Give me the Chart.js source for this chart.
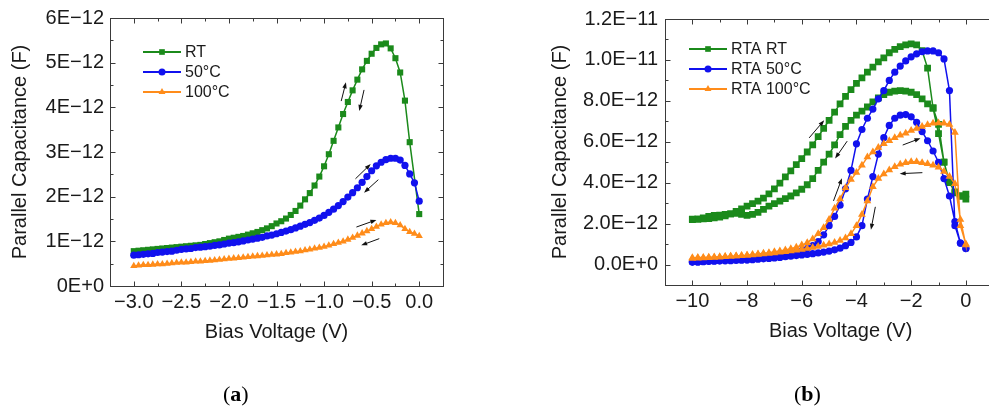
<!DOCTYPE html>
<html lang="en">
<head>
<meta charset="UTF-8">
<title>Parallel capacitance vs bias voltage</title>
<script src="https://cdn.jsdelivr.net/npm/chart.js@4.4.0/dist/chart.umd.min.js"></script>
<style>
  html, body { margin: 0; padding: 0; background: #fff; overflow: hidden; }
  body { width: 989px; height: 407px; position: relative; }
  .panel { position: absolute; top: 0; height: 407px; }
  #wrapA { left: 0; width: 470px; }
  #wrapB { left: 500px; width: 521px; }
  .tag { position: absolute; top: 381px; font-family: "Liberation Serif", "DejaVu Serif", serif; font-size: 22px; color: #000; }
</style>
</head>
<body>
<div class="panel" id="wrapA"><canvas id="chartA" width="470" height="407"></canvas></div>
<div class="panel" id="wrapB"><canvas id="chartB" width="521" height="407"></canvas></div>
<div class="tag" style="left:223px">(<b>a</b>)</div>
<div class="tag" style="left:794px">(<b>b</b>)</div>

<script>
// ---- panel (a): values in pF (1E-12 F) ----
const voltsA = [-3.00,-2.95,-2.90,-2.85,-2.80,-2.75,-2.70,-2.65,-2.60,-2.55,
  -2.50,-2.45,-2.40,-2.35,-2.30,-2.25,-2.20,-2.15,-2.10,-2.05,
  -2.00,-1.95,-1.90,-1.85,-1.80,-1.75,-1.70,-1.65,-1.60,-1.55,
  -1.50,-1.45,-1.40,-1.35,-1.30,-1.25,-1.20,-1.15,-1.10,-1.05,
  -1.00,-0.95,-0.90,-0.85,-0.80,-0.75,-0.70,-0.65,-0.60,-0.55,
  -0.50,-0.45,-0.40,-0.35,-0.30,-0.25,-0.20,-0.15,-0.10,-0.05,0.00];
const rtA = [0.78,0.79,0.80,0.81,0.82,0.83,0.84,0.85,0.86,0.87,
  0.88,0.89,0.90,0.91,0.92,0.94,0.96,0.98,1.00,1.03,
  1.06,1.08,1.10,1.12,1.15,1.18,1.21,1.25,1.29,1.34,
  1.40,1.45,1.51,1.59,1.68,1.80,1.94,2.08,2.25,2.45,
  2.68,2.95,3.25,3.55,3.85,4.12,4.38,4.62,4.85,5.04,
  5.20,5.33,5.41,5.43,5.32,5.10,4.78,4.15,3.22,null,1.61];
const c50A = [0.69,0.70,0.71,0.72,0.73,0.75,0.76,0.77,0.78,0.80,
  0.82,0.83,0.84,0.86,0.87,0.88,0.89,0.91,0.92,0.94,
  0.96,0.97,0.99,1.01,1.03,1.05,1.07,1.09,1.12,1.14,
  1.17,1.20,1.23,1.26,1.30,1.34,1.38,1.42,1.47,1.52,
  1.58,1.65,1.72,1.80,1.89,1.99,2.09,2.20,2.32,2.45,
  2.58,2.69,2.77,2.83,2.86,2.86,2.82,2.70,2.51,2.31,1.90];
const c100A = [0.45,0.46,0.47,0.47,0.48,0.49,0.49,0.50,0.51,0.52,
  0.53,0.53,0.54,0.55,0.55,0.56,0.57,0.58,0.59,0.60,
  0.61,0.62,0.63,0.64,0.65,0.66,0.67,0.68,0.69,0.70,
  0.71,0.72,0.74,0.75,0.77,0.78,0.80,0.82,0.84,0.86,
  0.88,0.91,0.94,0.97,1.00,1.04,1.08,1.13,1.18,1.23,
  1.28,1.33,1.38,1.41,1.43,1.41,1.36,1.28,1.21,1.17,1.12];
const xTicksA = [-3.0,-2.5,-2.0,-1.5,-1.0,-0.5,0.0];
const xLabelsA = ['\u22123.0','\u22122.5','\u22122.0','\u22121.5','\u22121.0','\u22120.5','0.0'];
const yTicksA = [0,1,2,3,4,5,6];
const yLabelsA = ['0E+0','1E\u221212','2E\u221212','3E\u221212','4E\u221212','5E\u221212','6E\u221212'];
const namesA = ['RT','50°C','100°C'];
// sweep arrows [x0, y0, x1, y1] in data units
const arrowsA = [[-0.82,4.14,-0.77,4.56],[-0.58,4.39,-0.63,3.92],[-0.67,2.40,-0.51,2.73],
  [-0.43,2.38,-0.58,2.09],[-0.66,1.32,-0.45,1.48],[-0.42,1.06,-0.61,0.91]];

// ---- panel (b): values in pF, forward (Up) and reverse (Down) sweeps ----
const voltsB = [-10.0,-9.8,-9.6,-9.4,-9.2,-9.0,-8.8,-8.6,-8.4,-8.2,
  -8.0,-7.8,-7.6,-7.4,-7.2,-7.0,-6.8,-6.6,-6.4,-6.2,
  -6.0,-5.8,-5.6,-5.4,-5.2,-5.0,-4.8,-4.6,-4.4,-4.2,
  -4.0,-3.8,-3.6,-3.4,-3.2,-3.0,-2.8,-2.6,-2.4,-2.2,
  -2.0,-1.8,-1.6,-1.4,-1.2,-1.0,-0.8,-0.6,-0.4,-0.2,0.0];
const rtaRtUp = [2.22,2.22,2.23,2.25,2.28,2.32,2.38,2.48,2.60,2.72,
  2.85,2.98,3.10,3.25,3.45,3.70,3.98,4.28,4.58,4.88,
  5.18,5.50,5.85,6.25,6.65,7.05,7.45,7.85,8.22,8.55,
  8.85,9.12,9.40,9.65,9.90,10.10,10.35,10.52,10.65,10.74,
  10.78,10.74,10.45,9.60,7.65,6.40,5.00,4.00,3.55,3.35,3.44];
const rtaRtDown = [2.20,2.22,2.28,2.35,2.40,2.42,2.45,2.48,2.50,2.45,
  2.40,2.45,2.55,2.70,2.85,2.98,3.10,3.22,3.35,3.50,
  3.68,3.90,4.20,4.60,5.00,5.40,5.85,6.35,6.75,7.05,
  7.30,7.50,7.70,7.95,8.15,8.30,8.42,8.48,8.50,8.48,
  8.42,8.30,8.10,7.85,7.65,6.85,5.00,4.05,3.50,3.35,3.20];
const rta50Up = [0.12,0.13,0.15,0.17,0.19,0.21,0.23,0.25,0.27,0.29,
  0.31,0.33,0.35,0.37,0.40,0.43,0.46,0.50,0.55,0.61,
  0.68,0.78,0.92,1.12,1.45,1.90,2.35,2.90,3.70,4.60,
  5.90,6.60,7.15,7.60,8.10,8.50,9.00,9.40,9.70,9.95,
  10.15,10.30,10.40,10.44,10.44,10.35,10.05,8.50,1.90,1.05,0.78];
const rta50Down = [0.12,0.13,0.14,0.15,0.16,0.17,0.18,0.19,0.20,0.21,
  0.22,0.24,0.26,0.28,0.30,0.32,0.35,0.38,0.41,0.44,
  0.47,0.50,0.53,0.57,0.61,0.66,0.72,0.80,0.92,1.08,
  1.35,1.90,3.20,4.30,5.40,6.20,6.80,7.15,7.30,7.33,
  7.22,6.95,6.50,6.05,5.55,5.00,4.20,3.35,2.10,1.05,0.78];
const rta100Up = [0.30,0.31,0.32,0.33,0.35,0.36,0.38,0.40,0.42,0.44,
  0.46,0.49,0.52,0.55,0.58,0.62,0.66,0.71,0.77,0.85,
  0.95,1.07,1.25,1.50,1.80,2.20,2.75,3.20,3.75,4.15,
  4.50,4.85,5.25,5.50,5.72,5.90,6.05,6.20,6.32,6.42,
  6.55,6.65,6.75,6.83,6.90,6.92,6.90,6.84,6.45,1.90,1.00];
const rta100Down = [0.33,0.34,0.35,0.36,0.37,0.38,0.39,0.40,0.42,0.43,
  0.45,0.47,0.49,0.51,0.54,0.57,0.60,0.63,0.66,0.70,
  0.74,0.78,0.83,0.88,0.94,1.00,1.08,1.17,1.30,1.50,
  1.90,2.45,3.10,3.80,4.20,4.42,4.62,4.78,4.90,4.98,
  5.02,5.02,4.98,4.92,4.85,4.75,4.55,4.30,3.95,2.20,0.95];
const xTicksB = [-10,-8,-6,-4,-2,0];
const xLabelsB = ['\u221210','\u22128','\u22126','\u22124','\u22122','0'];
const yTicksB = [0,2,4,6,8,10,12];
const yLabelsB = ['0.0E+0','2.0E\u221212','4.0E\u221212','6.0E\u221212','8.0E\u221212','1.0E\u221211','1.2E\u221211'];
const namesB = ['RTA RT','RTA 50°C','RTA 100°C'];
const arrowsB = [[-5.73,6.19,-5.18,7.05],[-4.34,6.03,-4.78,5.18],[-4.84,3.11,-4.53,4.22],
  [-3.31,2.82,-3.47,1.70],[-2.31,5.84,-1.66,6.17],[-1.59,4.49,-2.42,4.44]];

const GREEN = '#1b8a1b', BLUE = '#1111ee', ORANGE = '#ff8c1a', INK = '#1a1a1a';
const FONT = '"Liberation Sans", Arial, sans-serif';

function pairs(xs, ys) { return xs.map((v, i) => ({x: v, y: ys[i]})); }
function loop(xs, up, down) { return pairs(xs, up).concat(pairs(xs, down).reverse()); }
function mids(arr) { return arr.slice(1).map((v, i) => (v + arr[i]) / 2); }

function drawMarker(ctx, style, x, y, r) {
  ctx.beginPath();
  if (style === 'rect') {
    const s = r * Math.SQRT1_2;
    ctx.rect(x - s, y - s, 2 * s, 2 * s);
  } else if (style === 'triangle') {
    ctx.moveTo(x, y - r);
    ctx.lineTo(x + r * 0.866, y + r / 2);
    ctx.lineTo(x - r * 0.866, y + r / 2);
    ctx.closePath();
  } else {
    ctx.arc(x, y, r, 0, Math.PI * 2);
  }
  ctx.fill();
}

// box around the plot with inward major/minor ticks on all four sides
const frame = {
  id: 'frame',
  afterDraw(chart, args, opts) {
    const {ctx, chartArea: a, scales: {x, y}} = chart;
    const L = Math.round(a.left) + 0.5, R = Math.round(a.right) + 0.5;
    const T = Math.round(a.top) + 0.5, B = Math.round(a.bottom) + 0.5;
    ctx.save();
    ctx.strokeStyle = '#3a3a3a';
    ctx.lineWidth = 1;
    ctx.strokeRect(L, T, R - L, B - T);
    ctx.beginPath();
    const xt = (v, len) => {
      const p = Math.round(x.getPixelForValue(v)) + 0.5;
      ctx.moveTo(p, B); ctx.lineTo(p, B - len);
      ctx.moveTo(p, T); ctx.lineTo(p, T + len);
    };
    const yt = (v, len) => {
      const p = Math.round(y.getPixelForValue(v)) + 0.5;
      ctx.moveTo(L, p); ctx.lineTo(L + len, p);
      ctx.moveTo(R, p); ctx.lineTo(R - len, p);
    };
    opts.xMajor.forEach(v => xt(v, 5));
    mids(opts.xMajor).forEach(v => xt(v, 3));
    opts.yMajor.forEach(v => yt(v, 5));
    mids(opts.yMajor).forEach(v => yt(v, 3));
    ctx.stroke();
    ctx.restore();
  }
};

const legendBox = {
  id: 'legendBox',
  afterDraw(chart, args, opts) {
    const ctx = chart.ctx;
    ctx.save();
    ctx.font = '16px ' + FONT;
    ctx.textBaseline = 'middle';
    chart.data.datasets.forEach((ds, i) => {
      const yy = opts.y + i * opts.gap;
      ctx.strokeStyle = ds.borderColor;
      ctx.fillStyle = ds.borderColor;
      ctx.lineWidth = 2;
      ctx.beginPath();
      ctx.moveTo(opts.x, yy);
      ctx.lineTo(opts.x + opts.len, yy);
      ctx.stroke();
      drawMarker(ctx, ds.pointStyle, opts.x + opts.len / 2, yy, opts.r[i]);
      ctx.fillStyle = INK;
      ctx.fillText(ds.label, opts.x + opts.len + 4, yy + 1);
    });
    ctx.restore();
  }
};

const arrows = {
  id: 'arrows',
  afterDatasetsDraw(chart, args, opts) {
    const {ctx, scales: {x, y}} = chart;
    ctx.save();
    ctx.strokeStyle = '#111';
    ctx.fillStyle = '#111';
    ctx.lineWidth = 1;
    opts.list.forEach(([x0, y0, x1, y1]) => {
      const ax = x.getPixelForValue(x0), ay = y.getPixelForValue(y0);
      const bx = x.getPixelForValue(x1), by = y.getPixelForValue(y1);
      const ang = Math.atan2(by - ay, bx - ax);
      const c = Math.cos(ang), s = Math.sin(ang);
      ctx.beginPath();
      ctx.moveTo(ax, ay);
      ctx.lineTo(bx - 4 * c, by - 4 * s);
      ctx.stroke();
      ctx.beginPath();
      ctx.moveTo(bx, by);
      ctx.lineTo(bx - 6 * c + 2.2 * s, by - 6 * s - 2.2 * c);
      ctx.lineTo(bx - 6 * c - 2.2 * s, by - 6 * s + 2.2 * c);
      ctx.closePath();
      ctx.fill();
    });
    ctx.restore();
  }
};

function series(label, color, style, r, order, data) {
  return {
    label: label, data: data, borderColor: color, backgroundColor: color,
    pointBackgroundColor: color, pointBorderColor: color, pointBorderWidth: 0,
    pointStyle: style, pointRadius: r, borderWidth: 1.5, tension: 0,
    spanGaps: true, order: order
  };
}

function makeChart(id, cfg) {
  return new Chart(document.getElementById(id), {
    type: 'line',
    data: {datasets: cfg.datasets},
    options: {
      responsive: false,
      animation: false,
      events: [],
      layout: {padding: cfg.padding},
      plugins: {
        legend: {display: false},
        tooltip: {enabled: false},
        frame: {xMajor: cfg.xTicks, yMajor: cfg.yTicks},
        legendBox: cfg.legend,
        arrows: {list: cfg.arrows}
      },
      scales: {
        x: {
          type: 'linear', min: cfg.xMin, max: cfg.xMax,
          afterBuildTicks: s => { s.ticks = cfg.xTicks.map(v => ({value: v})); },
          afterFit: s => { s.height = 60; },
          grid: {display: false, drawTicks: false, tickLength: 0}, border: {display: false},
          ticks: {autoSkip: false, maxRotation: 0, padding: 4, color: INK,
            font: {family: FONT, size: 20}, callback: (v, i) => cfg.xLabels[i]},
          title: {display: true, text: 'Bias Voltage (V)', color: INK,
            font: {family: FONT, size: 20}, padding: {top: 0, bottom: 2}}
        },
        y: {
          type: 'linear', min: cfg.yMin, max: cfg.yMax,
          afterBuildTicks: s => { s.ticks = cfg.yTicks.map(v => ({value: v})); },
          afterFit: s => { s.width = cfg.yWidth; },
          grid: {display: false, drawTicks: false, tickLength: 0}, border: {display: false},
          ticks: {autoSkip: false, padding: cfg.yPad, color: INK,
            font: {family: FONT, size: 20}, callback: (v, i) => cfg.yLabels[i]},
          title: {display: true, text: 'Parallel Capacitance (F)', color: INK,
            font: {family: FONT, size: 20}, padding: {top: cfg.yTitlePad, bottom: 0}}
        }
      }
    },
    plugins: [arrows, frame, legendBox]
  });
}

makeChart('chartA', {
  datasets: [
    series(namesA[0], GREEN, 'rect', 4.3, 3, pairs(voltsA, rtA)),
    series(namesA[1], BLUE, 'circle', 3.6, 2, pairs(voltsA, c50A)),
    series(namesA[2], ORANGE, 'triangle', 4.2, 1, pairs(voltsA, c100A))
  ],
  padding: {left: 0, top: 17, right: 27, bottom: 61},
  xMin: -3.25, xMax: 0.25, xTicks: xTicksA, xLabels: xLabelsA,
  yMin: 0, yMax: 6, yTicks: yTicksA, yLabels: yLabelsA,
  yWidth: 110, yPad: 6, yTitlePad: 8,
  legend: {x: 143, y: 52, gap: 20, len: 38, r: [4, 3.5, 4]},
  arrows: arrowsA
});

makeChart('chartB', {
  datasets: [
    series(namesB[0], GREEN, 'rect', 4.8, 3, loop(voltsB, rtaRtUp, rtaRtDown)),
    series(namesB[1], BLUE, 'circle', 3.6, 2, loop(voltsB, rta50Up, rta50Down)),
    series(namesB[2], ORANGE, 'triangle', 4.5, 1, loop(voltsB, rta100Up, rta100Down))
  ],
  padding: {left: 0, top: 17, right: 0, bottom: 62},
  xMin: -11, xMax: 1.84, xTicks: xTicksB, xLabels: xLabelsB,
  yMin: -1, yMax: 12, yTicks: yTicksB, yLabels: yLabelsB,
  yWidth: 165, yPad: 7, yTitlePad: 48,
  legend: {x: 189, y: 49, gap: 20, len: 38, r: [4, 3.5, 4]},
  arrows: arrowsB
});
</script>
</body>
</html>
